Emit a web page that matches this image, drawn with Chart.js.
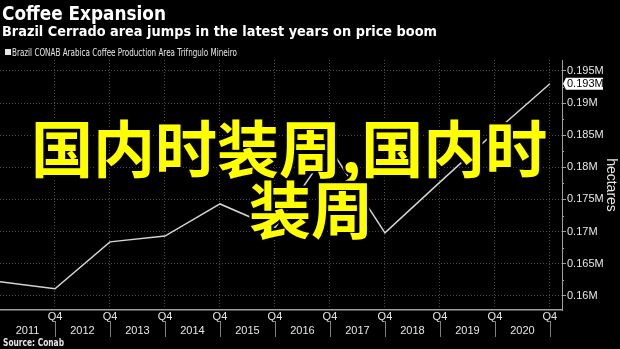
<!DOCTYPE html>
<html>
<head>
<meta charset="utf-8">
<script src="https://cdn.jsdelivr.net/npm/chart.js@4.4.1/dist/chart.umd.min.js"></script>
<style>
  html, body { margin: 0; padding: 0; background: #000; overflow: hidden; }
  #wrap { width: 620px; height: 349px; position: relative; }
</style>
</head>
<body>
<div id="wrap"><canvas id="c" width="620" height="349"></canvas></div>
<script>
// Year-end (Q4) observations, Dec 2010 through Dec 2020
const periods = ['2010 Q4', '2011 Q4', '2012 Q4', '2013 Q4', '2014 Q4', '2015 Q4',
                 '2016 Q4', '2017 Q4', '2018 Q4', '2019 Q4', '2020 Q4'];
const areaHectares = [162200, 161100, 168400, 169300, 174300, 170600,
                      183000, 169800, 177700, 185500, 193000];
const years = ['2011', '2012', '2013', '2014', '2015', '2016', '2017', '2018', '2019', '2020'];
const quarterLabel = 'Q4';
const yTickValues = [160000, 162500, 165000, 167500, 170000, 172500, 175000, 177500,
                     180000, 182500, 185000, 187500, 190000, 192500, 195000];

const titleText = 'Coffee Expansion';
const subtitleText = 'Brazil Cerrado area jumps in the latest years on price boom';
const seriesName = 'Brazil CONAB Arabica Coffee Production Area Trifngulo Mineiro';
const sourceText = 'Source: Conab';
const axisTitle = 'hectares';
const overlayLines = ['国内时装周,国内时', '装周'];

const TEXT = '#e6e6e6';
const GRID = '#4a4a4a';
const AXIS = '#a0a0a0';
const TICK_FONT = '"Liberation Sans", Arial, sans-serif';
const HEAD_FONT = '"DejaVu Sans", sans-serif';

const fmtM = v => +(v / 1e6).toFixed(3) + 'M';
const isMajor = v => v % 5000 === 0;

const decor = {
  id: 'decor',
  afterDraw(chart) {
    const ctx = chart.ctx;
    const xs = chart.scales.x;
    const ys = chart.scales.y;
    const area = chart.chartArea;
    ctx.save();

    // headings
    ctx.fillStyle = '#ffffff';
    ctx.textAlign = 'left';
    ctx.textBaseline = 'alphabetic';
    ctx.font = 'bold 19px ' + HEAD_FONT;
    ctx.fillText(titleText, 2, 20, 164);
    ctx.font = 'bold 14px ' + HEAD_FONT;
    ctx.fillText(subtitleText, 2, 36, 435);

    // legend
    ctx.fillStyle = TEXT;
    ctx.fillRect(5, 49, 6, 6);
    ctx.font = '10px ' + HEAD_FONT;
    ctx.fillText(seriesName, 12, 56, 225);

    // source
    ctx.font = 'bold 10px ' + HEAD_FONT;
    ctx.fillText(sourceText, 3, 346, 61);

    // year labels and separators under the Q4 ticks
    ctx.font = '11px ' + TICK_FONT;
    ctx.textAlign = 'center';
    years.forEach((yr, i) => {
      ctx.fillStyle = TEXT;
      ctx.fillText(yr, xs.getPixelForValue(i + 0.5), 334);
      const sx = Math.round(xs.getPixelForValue(i + 1)) + 0.5;
      ctx.strokeStyle = '#808080';
      ctx.lineWidth = 1;
      ctx.beginPath();
      ctx.moveTo(sx, 321);
      ctx.lineTo(sx, 337);
      ctx.stroke();
    });

    // minor ticks on the value axis
    ctx.strokeStyle = AXIS;
    yTickValues.filter(v => !isMajor(v)).forEach(v => {
      const py = Math.round(ys.getPixelForValue(v)) + 0.5;
      ctx.beginPath();
      ctx.moveTo(area.right, py);
      ctx.lineTo(area.right + 2, py);
      ctx.stroke();
    });

    // axis title
    ctx.save();
    ctx.translate(611, 185);
    ctx.rotate(Math.PI / 2);
    ctx.fillStyle = TEXT;
    ctx.font = '14px ' + TICK_FONT;
    ctx.textAlign = 'center';
    ctx.textBaseline = 'middle';
    ctx.fillText(axisTitle, 0, 0);
    ctx.restore();

    // last-value badge
    const last = areaHectares[areaHectares.length - 1];
    const by = ys.getPixelForValue(last);
    ctx.fillStyle = '#ffffff';
    ctx.beginPath();
    ctx.moveTo(area.right + 1, by);
    ctx.lineTo(area.right + 4, by - 6);
    ctx.lineTo(area.right + 41, by - 6);
    ctx.lineTo(area.right + 41, by + 6);
    ctx.lineTo(area.right + 4, by + 6);
    ctx.closePath();
    ctx.fill();
    ctx.fillStyle = '#000000';
    ctx.font = '11px ' + TICK_FONT;
    ctx.textAlign = 'left';
    ctx.textBaseline = 'middle';
    ctx.fillText(fmtM(last), area.right + 5, by + 0.5);

    // overlay caption
    ctx.font = 'bold 62px "Noto Sans CJK SC", sans-serif';
    ctx.textAlign = 'left';
    ctx.textBaseline = 'alphabetic';
    ctx.lineJoin = 'round';
    ctx.lineWidth = 5;
    ctx.strokeStyle = '#000000';
    ctx.fillStyle = '#ffff00';
    const pos = [[31, 173], [249, 234]];
    overlayLines.forEach((t, i) => {
      ctx.strokeText(t, pos[i][0], pos[i][1]);
      ctx.fillText(t, pos[i][0], pos[i][1]);
    });

    ctx.restore();
  }
};

new Chart(document.getElementById('c'), {
  type: 'line',
  data: {
    labels: periods,
    datasets: [{
      label: seriesName,
      data: areaHectares.map((v, i) => ({ x: i, y: v })),
      borderColor: '#d4d4d4',
      borderWidth: 1.5,
      pointRadius: 0,
      tension: 0,
      fill: false
    }]
  },
  options: {
    responsive: false,
    animation: false,
    devicePixelRatio: 1,
    layout: { padding: { top: 60, left: 0, right: 0, bottom: 0 } },
    plugins: { legend: { display: false }, title: { display: false }, tooltip: { enabled: false } },
    scales: {
      x: {
        type: 'linear',
        min: 0,
        max: 10.22,
        afterBuildTicks: s => { s.ticks = years.map((_, i) => ({ value: i + 1 })); },
        afterFit: s => { s.height = 39; },
        ticks: {
          callback: () => quarterLabel,
          color: TEXT,
          font: { family: TICK_FONT, size: 11 },
          padding: 0,
          maxRotation: 0,
          autoSkip: false
        },
        grid: { color: GRID, drawTicks: false, lineWidth: 1 },
        border: { color: AXIS, width: 1.5, dash: [1, 2] }
      },
      y: {
        position: 'right',
        min: 157800,
        max: 196700,
        afterBuildTicks: s => { s.ticks = yTickValues.map(v => ({ value: v })); },
        afterFit: s => { s.width = 58; },
        ticks: {
          callback: v => isMajor(v) ? fmtM(v) : '',
          color: TEXT,
          font: { family: TICK_FONT, size: 11 },
          padding: 1,
          autoSkip: false
        },
        grid: {
          color: c => (c.tick && isMajor(c.tick.value)) ? GRID : 'rgba(0,0,0,0)',
          tickColor: c => (c.tick && isMajor(c.tick.value)) ? AXIS : 'rgba(0,0,0,0)',
          tickLength: 4,
          lineWidth: 1
        },
        border: { color: AXIS, width: 1, dash: [1, 2] }
      }
    }
  },
  plugins: [decor]
});
</script>
</body>
</html>
